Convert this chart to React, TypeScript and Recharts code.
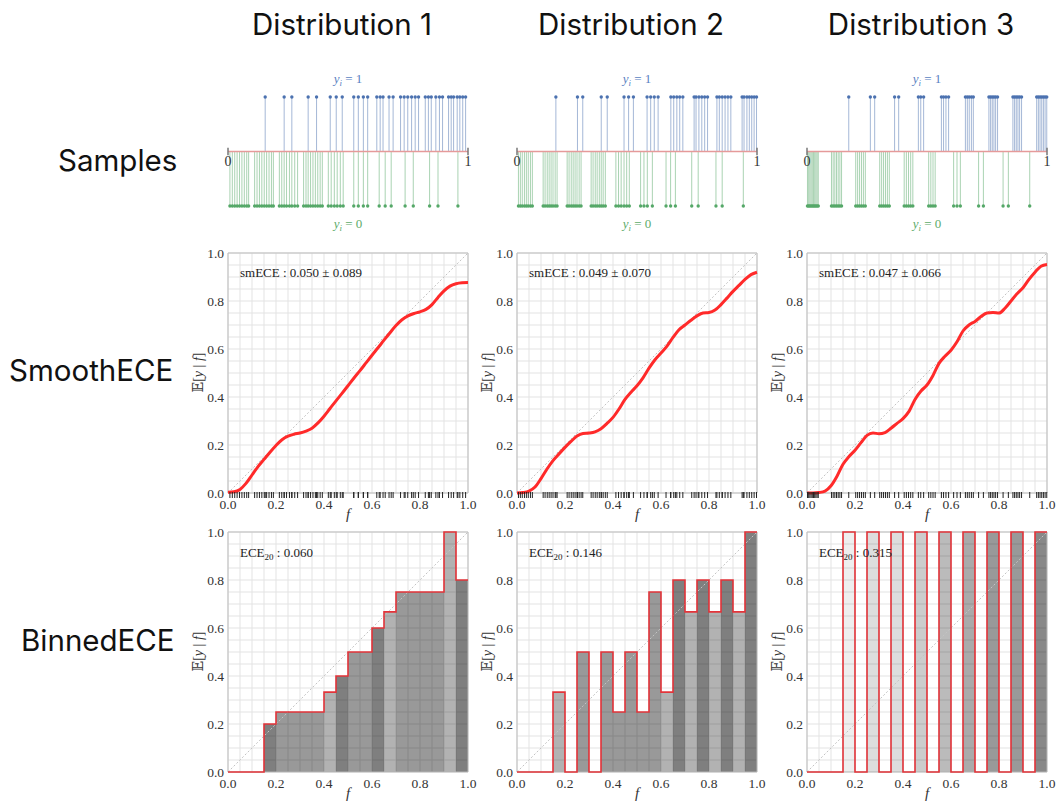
import React from 'react';
import {
  ComposedChart,
  Line,
  Scatter,
  XAxis,
  YAxis,
  CartesianGrid,
  ReferenceLine,
  ReferenceArea,
} from 'recharts';

// ---------------- data ----------------
const columnTitles = ['Distribution 1', 'Distribution 2', 'Distribution 3'];
const rowTitles = ['Samples', 'SmoothECE', 'BinnedECE'];

const gridTicks = [0, 0.05, 0.1, 0.15, 0.2, 0.25, 0.3, 0.35, 0.4, 0.45, 0.5, 0.55, 0.6, 0.65, 0.7, 0.75, 0.8, 0.85, 0.9, 0.95, 1];
const labeledTicks = [0, 0.2, 0.4, 0.6, 0.8, 1];
const binEdges = [0, 0.05, 0.1, 0.15, 0.2, 0.25, 0.3, 0.35, 0.4, 0.45, 0.5, 0.55, 0.6, 0.65, 0.7, 0.75, 0.8, 0.85, 0.9, 0.95, 1];

// Samples (f values) with y = 1 and y = 0
const d1Pos = [0.155, 0.234, 0.266, 0.334, 0.369, 0.426, 0.451, 0.476, 0.524, 0.543, 0.564, 0.582, 0.62, 0.634, 0.646, 0.671, 0.688, 0.719, 0.734, 0.749, 0.765, 0.78, 0.794, 0.822, 0.835, 0.847, 0.866, 0.881, 0.894, 0.919, 0.93, 0.94, 0.955, 0.966, 0.978, 0.99];
const d1Neg = [0.008, 0.018, 0.028, 0.038, 0.048, 0.058, 0.068, 0.078, 0.086, 0.111, 0.121, 0.131, 0.141, 0.151, 0.161, 0.171, 0.181, 0.189, 0.214, 0.224, 0.234, 0.244, 0.256, 0.266, 0.278, 0.29, 0.315, 0.325, 0.334, 0.344, 0.354, 0.364, 0.374, 0.384, 0.393, 0.418, 0.43, 0.443, 0.455, 0.468, 0.48, 0.524, 0.543, 0.564, 0.582, 0.63, 0.655, 0.68, 0.738, 0.772, 0.84, 0.875, 0.958];

const d2Pos = [0.162, 0.252, 0.274, 0.351, 0.376, 0.446, 0.465, 0.485, 0.542, 0.557, 0.572, 0.588, 0.641, 0.653, 0.666, 0.678, 0.691, 0.738, 0.746, 0.758, 0.77, 0.782, 0.794, 0.833, 0.843, 0.855, 0.867, 0.879, 0.891, 0.938, 0.946, 0.958, 0.968, 0.978, 0.988, 0.998];
const d2Neg = [0.006, 0.014, 0.022, 0.031, 0.039, 0.047, 0.056, 0.064, 0.109, 0.117, 0.126, 0.134, 0.142, 0.15, 0.159, 0.167, 0.209, 0.217, 0.226, 0.234, 0.242, 0.25, 0.259, 0.267, 0.309, 0.317, 0.326, 0.334, 0.343, 0.351, 0.359, 0.368, 0.412, 0.423, 0.434, 0.446, 0.457, 0.468, 0.515, 0.529, 0.543, 0.564, 0.621, 0.64, 0.66, 0.728, 0.755, 0.829, 0.855, 0.943];

const d3Pos = [0.174, 0.264, 0.282, 0.365, 0.382, 0.464, 0.474, 0.486, 0.56, 0.569, 0.579, 0.59, 0.66, 0.668, 0.676, 0.685, 0.693, 0.758, 0.765, 0.772, 0.779, 0.786, 0.794, 0.858, 0.865, 0.872, 0.879, 0.886, 0.894, 0.957, 0.964, 0.971, 0.978, 0.985, 0.992, 0.999];
const d3Neg = [0.002, 0.007, 0.012, 0.017, 0.022, 0.027, 0.032, 0.037, 0.042, 0.047, 0.102, 0.109, 0.116, 0.123, 0.13, 0.137, 0.144, 0.203, 0.211, 0.219, 0.227, 0.235, 0.243, 0.303, 0.311, 0.319, 0.327, 0.335, 0.343, 0.405, 0.414, 0.423, 0.432, 0.441, 0.507, 0.516, 0.525, 0.534, 0.611, 0.625, 0.639, 0.715, 0.735, 0.817, 0.839, 0.928];

// Smooth calibration curves E[y|f] read at these f values
const curveF = [0, 0.025, 0.05, 0.075, 0.1, 0.125, 0.15, 0.175, 0.2, 0.225, 0.25, 0.275, 0.3, 0.325, 0.35, 0.375, 0.4, 0.425, 0.45, 0.475, 0.5, 0.525, 0.55, 0.575, 0.6, 0.625, 0.65, 0.675, 0.7, 0.725, 0.75, 0.775, 0.8, 0.825, 0.85, 0.875, 0.9, 0.925, 0.95, 0.975, 1];
const d1Curve = [0.003, 0.005, 0.015, 0.04, 0.075, 0.11, 0.14, 0.17, 0.198, 0.222, 0.237, 0.245, 0.25, 0.258, 0.27, 0.292, 0.32, 0.352, 0.384, 0.415, 0.447, 0.479, 0.51, 0.542, 0.574, 0.605, 0.637, 0.668, 0.698, 0.722, 0.738, 0.748, 0.755, 0.765, 0.785, 0.815, 0.842, 0.862, 0.872, 0.876, 0.877];
const d2Curve = [0, 0.002, 0.008, 0.025, 0.06, 0.1, 0.135, 0.163, 0.19, 0.215, 0.237, 0.248, 0.25, 0.255, 0.268, 0.29, 0.315, 0.35, 0.39, 0.42, 0.447, 0.48, 0.52, 0.555, 0.583, 0.612, 0.648, 0.68, 0.7, 0.72, 0.738, 0.75, 0.752, 0.762, 0.785, 0.812, 0.84, 0.865, 0.89, 0.91, 0.92];
const d3Curve = [0, 0, 0.002, 0.008, 0.03, 0.07, 0.12, 0.152, 0.178, 0.21, 0.24, 0.25, 0.247, 0.252, 0.27, 0.29, 0.31, 0.34, 0.39, 0.425, 0.45, 0.49, 0.54, 0.57, 0.595, 0.63, 0.675, 0.7, 0.715, 0.735, 0.75, 0.752, 0.75, 0.77, 0.8, 0.83, 0.855, 0.89, 0.92, 0.945, 0.952];

// Binned ECE: mean label and sample count per bin (20 bins)
const d1BinMean = [0, 0, 0, 0.2, 0.25, 0.25, 0.25, 0.25, 0.333, 0.4, 0.5, 0.5, 0.6, 0.667, 0.75, 0.75, 0.75, 0.75, 1, 0.8];
const d1BinCount = [5, 5, 4, 5, 4, 4, 4, 4, 3, 5, 4, 4, 5, 3, 4, 4, 4, 4, 3, 5];
const d2BinMean = [0, 0, 0, 0.333, 0, 0.5, 0, 0.5, 0.25, 0.5, 0.25, 0.75, 0.333, 0.8, 0.667, 0.8, 0.667, 0.8, 0.667, 1];
const d2BinCount = [5, 4, 4, 3, 4, 4, 4, 4, 4, 4, 4, 4, 3, 5, 3, 5, 3, 5, 3, 5];
const d3BinMean = [0, 0, 0, 1, 0, 1, 0, 1, 0, 1, 0, 1, 0, 1, 0, 1, 0, 1, 0, 1];
const d3BinCount = [10, 0, 7, 1, 6, 2, 6, 2, 5, 3, 4, 4, 3, 5, 2, 6, 2, 6, 1, 7];

const smEceTexts = ['smECE : 0.050 \u00b1 0.089', 'smECE : 0.049 \u00b1 0.070', 'smECE : 0.047 \u00b1 0.066'];
const eceTexts = ['0.060', '0.146', '0.315'];

// ---------------- layout / style ----------------
const COLS = [228, 517, 807];
const TITLE_X = [342, 631, 921];
const S = 240;
const SERIF = '"Liberation Serif", "DejaVu Serif", serif';
const SANS = 'Inter, "Noto Sans", sans-serif';
const BLUE = '#4c72b0';
const GREEN = '#55a868';

const dists = [
  { pos: d1Pos, neg: d1Neg, curve: d1Curve, mean: d1BinMean, count: d1BinCount, shade: 0.1 },
  { pos: d2Pos, neg: d2Neg, curve: d2Curve, mean: d2BinMean, count: d2BinCount, shade: 0.1 },
  { pos: d3Pos, neg: d3Neg, curve: d3Curve, mean: d3BinMean, count: d3BinCount, shade: 0.0667 },
];

const fmtTick = (v: number) =>
  labeledTicks.some((t) => Math.abs(t - v) < 1e-9) ? v.toFixed(1) : '';

const tickStyle = { fontFamily: SERIF, fontSize: 13.5, fill: '#333' };

const dotShape = (color: string) => (p: any) => (
  <circle cx={p.cx} cy={p.cy} r={1.7} fill={color} />
);

const rugShape = (p: any) => (
  <line x1={p.cx} x2={p.cx} y1={p.cy - 1} y2={p.cy + 5} stroke="#222" strokeWidth={1} />
);

function SamplesPanel({ left, pos, neg }: { left: number; pos: number[]; neg: number[] }) {
  return (
    <div style={{ position: 'absolute', left: left - 10, top: 87 }}>
      <ComposedChart width={S + 20} height={129} margin={{ top: 10, right: 10, bottom: 10, left: 10 }}>
        <XAxis type="number" dataKey="x" domain={[0, 1]} hide />
        <YAxis type="number" dataKey="y" domain={[-1, 1]} hide />
        {neg.map((v, i) => (
          <ReferenceLine key={'n' + i} segment={[{ x: v, y: 0 }, { x: v, y: -1 }]} stroke={GREEN} strokeOpacity={0.5} strokeWidth={1} />
        ))}
        {pos.map((v, i) => (
          <ReferenceLine key={'p' + i} segment={[{ x: v, y: 0 }, { x: v, y: 1 }]} stroke={BLUE} strokeOpacity={0.5} strokeWidth={1} />
        ))}
        <ReferenceLine segment={[{ x: 0, y: 0 }, { x: 1, y: 0 }]} stroke="#e59a9a" strokeWidth={1.5} />
        <ReferenceLine segment={[{ x: 0, y: -0.07 }, { x: 0, y: 0.07 }]} stroke="#777" strokeWidth={1.5} />
        <ReferenceLine segment={[{ x: 1, y: -0.07 }, { x: 1, y: 0.07 }]} stroke="#777" strokeWidth={1.5} />
        <Scatter data={pos.map((x) => ({ x, y: 1 }))} shape={dotShape(BLUE)} isAnimationActive={false} />
        <Scatter data={neg.map((x) => ({ x, y: -1 }))} shape={dotShape(GREEN)} isAnimationActive={false} />
      </ComposedChart>
    </div>
  );
}

function SmoothPanel({ left, d }: { left: number; d: (typeof dists)[number] }) {
  const curve = curveF.map((x, i) => ({ x, y: d.curve[i] }));
  const rug = [...d.pos, ...d.neg].map((x) => ({ x, y: 0 }));
  return (
    <div style={{ position: 'absolute', left: left - 48, top: 253 - 10 }}>
      <ComposedChart width={S + 60} height={280} margin={{ top: 10, right: 12, bottom: 0, left: 0 }}>
        <CartesianGrid stroke="#e3e3e3" />
        <XAxis type="number" dataKey="x" domain={[0, 1]} ticks={gridTicks} interval={0} tickFormatter={fmtTick}
          axisLine={false} tickLine={false} tickSize={4} tickMargin={2} height={30} tick={tickStyle} />
        <YAxis type="number" dataKey="y" domain={[0, 1]} ticks={gridTicks} interval={0} tickFormatter={fmtTick}
          axisLine={false} tickLine={false} tickSize={2} tickMargin={2} width={48} tick={tickStyle} />
        <ReferenceLine segment={[{ x: 0, y: 0 }, { x: 1, y: 1 }]} stroke="#c4c4c4" strokeDasharray="2 2" />
        <ReferenceArea x1={0} x2={1} y1={0} y2={1} fill="none" stroke="#bdbdbd" strokeWidth={1} />
        <Line data={curve} dataKey="y" type="monotone" stroke="#ff2a2a" strokeWidth={3} dot={false} isAnimationActive={false} />
        <Scatter data={rug} shape={rugShape} isAnimationActive={false} />
      </ComposedChart>
    </div>
  );
}

function BinnedPanel({ left, d }: { left: number; d: (typeof dists)[number] }) {
  const step = binEdges.map((x, i) => ({ x, y: d.mean[Math.min(i, d.mean.length - 1)] }));
  return (
    <div style={{ position: 'absolute', left: left - 48, top: 532 - 10 }}>
      <ComposedChart width={S + 60} height={280} margin={{ top: 10, right: 12, bottom: 0, left: 0 }}>
        <CartesianGrid stroke="#e3e3e3" />
        <XAxis type="number" dataKey="x" domain={[0, 1]} ticks={gridTicks} interval={0} tickFormatter={fmtTick}
          axisLine={false} tickLine={false} tickSize={4} tickMargin={2} height={30} tick={tickStyle} />
        <YAxis type="number" dataKey="y" domain={[0, 1]} ticks={gridTicks} interval={0} tickFormatter={fmtTick}
          axisLine={false} tickLine={false} tickSize={2} tickMargin={2} width={48} tick={tickStyle} />
        {d.mean.map((m, i) =>
          m > 0 ? (
            <ReferenceArea key={'b' + i} x1={binEdges[i]} x2={binEdges[i + 1]} y1={0} y2={m}
              fill="#000" fillOpacity={d.shade * d.count[i]} stroke="none" />
          ) : null
        )}
        <ReferenceLine segment={[{ x: 0, y: 0 }, { x: 1, y: 1 }]} stroke="#c4c4c4" strokeDasharray="2 2" />
        <ReferenceArea x1={0} x2={1} y1={0} y2={1} fill="none" stroke="#bdbdbd" strokeWidth={1} />
        <Line data={step} dataKey="y" type="stepAfter" stroke="#e3343a" strokeWidth={1.6} dot={false} isAnimationActive={false} />
      </ComposedChart>
    </div>
  );
}

function Overlay() {
  const rowLeft = [58, 9, 21];
  const rowBase = [171, 381, 651];
  return (
    <svg width={1056} height={804} style={{ position: 'absolute', left: 0, top: 0, pointerEvents: 'none' }}>
      {columnTitles.map((t, c) => (
        <text key={'t' + c} x={TITLE_X[c]} y={35} textAnchor="middle" fontFamily={SANS} fontSize={29.5} fill="#111">
          {t}
        </text>
      ))}
      {rowTitles.map((t, r) => (
        <text key={'r' + r} x={rowLeft[r]} y={rowBase[r]} fontFamily={SANS} fontSize={29.5} fill="#111">
          {t}
        </text>
      ))}
      {COLS.map((x0, c) => (
        <g key={'c' + c} fontFamily={SERIF}>
          <text x={x0 + S / 2} y={83} textAnchor="middle" fontSize={13} fill="#5a7fc2">
            <tspan fontStyle="italic">y</tspan>
            <tspan fontStyle="italic" fontSize={9} dy={3}>i</tspan>
            <tspan dy={-3}> = 1</tspan>
          </text>
          <text x={x0 + S / 2} y={228} textAnchor="middle" fontSize={13} fill="#5dac6a">
            <tspan fontStyle="italic">y</tspan>
            <tspan fontStyle="italic" fontSize={9} dy={3}>i</tspan>
            <tspan dy={-3}> = 0</tspan>
          </text>
          <text x={x0} y={166} textAnchor="middle" fontSize={14} fill="#333">0</text>
          <text x={x0 + S} y={166} textAnchor="middle" fontSize={14} fill="#333">1</text>

          {[372.5, 651.5].map((cy, k) => (
            <text key={'yl' + k} x={x0 - 30} y={cy} transform={`rotate(-90 ${x0 - 30} ${cy})`} textAnchor="middle"
              dominantBaseline="central" fontSize={14} fill="#333">
              {'\u{1D53C}['}
              <tspan fontStyle="italic">y</tspan>
              {' | '}
              <tspan fontStyle="italic">f</tspan>
              {']'}
            </text>
          ))}
          <text x={x0 + S / 2} y={519} textAnchor="middle" fontSize={15} fontStyle="italic" fill="#333">f</text>
          <text x={x0 + S / 2} y={798} textAnchor="middle" fontSize={15} fontStyle="italic" fill="#333">f</text>

          <text x={x0 + 12} y={277} fontSize={13} fill="#222">{smEceTexts[c]}</text>
          <text x={x0 + 12} y={557} fontSize={13} fill="#222">
            ECE
            <tspan fontSize={9} dy={3}>20</tspan>
            <tspan dy={-3}>{' : ' + eceTexts[c]}</tspan>
          </text>
        </g>
      ))}
    </svg>
  );
}

export default function App() {
  return (
    <div style={{ position: 'absolute', left: 0, top: 0, width: 1056, height: 804, background: '#fff' }}>
      {dists.map((d, c) => (
        <SamplesPanel key={'s' + c} left={COLS[c]} pos={d.pos} neg={d.neg} />
      ))}
      {dists.map((d, c) => (
        <SmoothPanel key={'m' + c} left={COLS[c]} d={d} />
      ))}
      {dists.map((d, c) => (
        <BinnedPanel key={'b' + c} left={COLS[c]} d={d} />
      ))}
      <Overlay />
    </div>
  );
}
